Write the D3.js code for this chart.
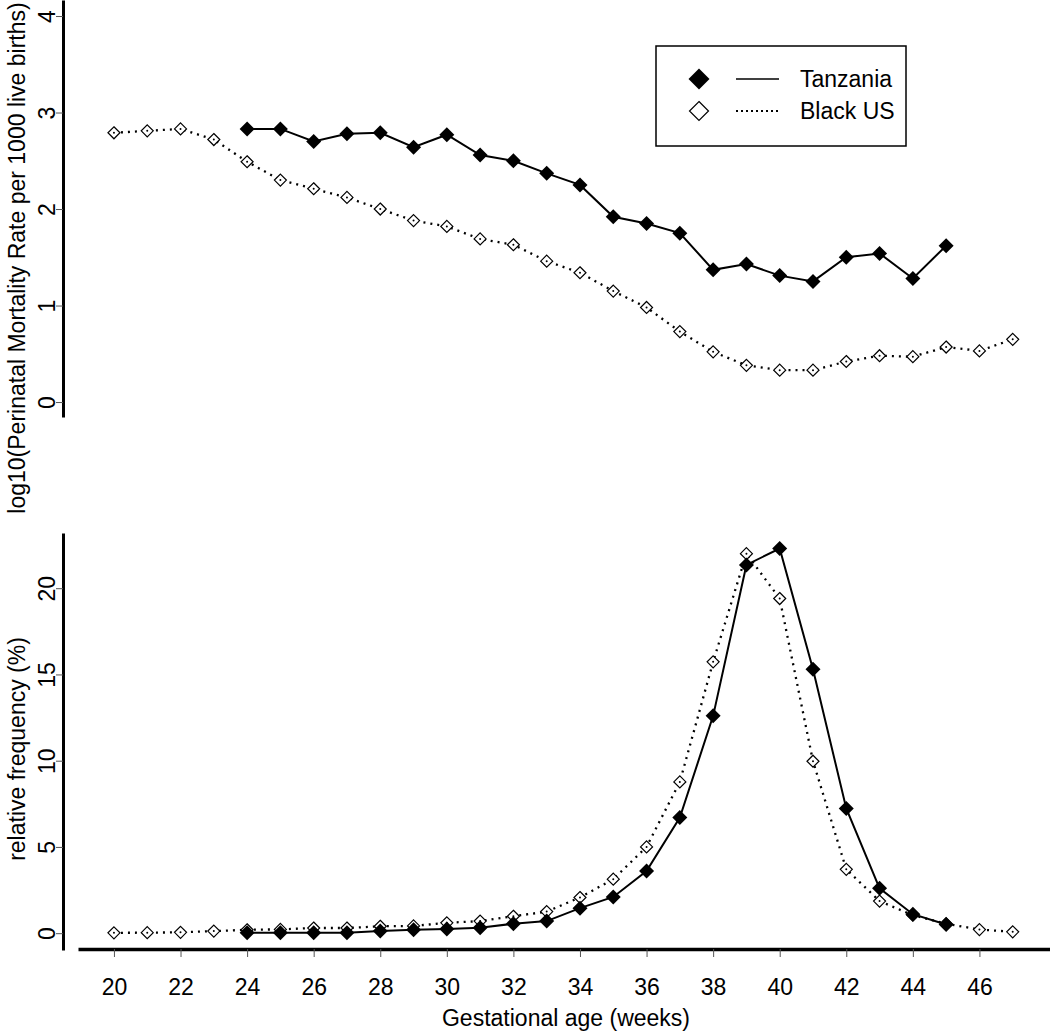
<!DOCTYPE html>
<html>
<head>
<meta charset="utf-8">
<script src="https://cdn.jsdelivr.net/npm/d3@7"></script>
<style>
  html, body { margin: 0; padding: 0; background: #fff; }
  svg text { font-family: "Liberation Sans", Arial, sans-serif; fill: #000; }
</style>
</head>
<body>
<svg id="chart" width="1050" height="1032"></svg>
<script>
// ---- data ----
const weeksTanzania = [24,25,26,27,28,29,30,31,32,33,34,35,36,37,38,39,40,41,42,43,44,45];
const weeksBlackUS  = [20,21,22,23,24,25,26,27,28,29,30,31,32,33,34,35,36,37,38,39,40,41,42,43,44,45,46,47];

const mortTanzania = [2.83,2.83,2.70,2.78,2.79,2.64,2.77,2.56,2.50,2.37,2.25,1.92,1.85,1.75,1.37,1.43,1.31,1.25,1.50,1.54,1.28,1.62];
const mortBlackUS  = [2.79,2.81,2.83,2.72,2.49,2.30,2.21,2.12,2.00,1.88,1.82,1.69,1.63,1.46,1.34,1.15,0.98,0.73,0.52,0.38,0.33,0.33,0.42,0.48,0.47,0.57,0.53,0.65];

const freqTanzania = [0.02,0.02,0.03,0.03,0.12,0.2,0.24,0.31,0.55,0.7,1.45,2.1,3.6,6.7,12.6,21.35,22.3,15.3,7.23,2.6,1.1,0.5];
const freqBlackUS  = [0.02,0.03,0.05,0.12,0.2,0.22,0.3,0.3,0.4,0.42,0.6,0.7,0.98,1.25,2.07,3.13,5.0,8.77,15.73,22.0,19.4,9.97,3.7,1.86,1.04,0.55,0.21,0.08];

const xTicks = [20,22,24,26,28,30,32,34,36,38,40,42,44,46];
const mortTicks = [0,1,2,3,4];
const freqTicks = [0,5,10,15,20];
const seriesNames = ["Tanzania", "Black US"];

// ---- layout ----
const FS = "23px";
const svg = d3.select("#chart");
const x = d3.scaleLinear().domain([18.92, 48.12]).range([78, 1050]);
const yTop = d3.scaleLinear().domain([-0.155, 4.166]).range([417, 0]);
const yBot = d3.scaleLinear().domain([-0.975, 23.2]).range([950, 533]);
const axisX = 63;

function styleYAxis(g) {
  g.select(".domain").attr("stroke", "#000").attr("stroke-width", 3);
  g.selectAll(".tick line").attr("stroke", "#555").attr("stroke-width", 1);
  g.selectAll(".tick text")
    .attr("x", 0).attr("y", 0).attr("dy", null)
    .attr("text-anchor", "middle")
    .attr("transform", "translate(-8,0) rotate(-90)")
    .style("font-size", FS);
}

// top y axis
svg.append("g").attr("transform", `translate(${axisX},0)`)
  .call(d3.axisLeft(yTop).tickValues(mortTicks).tickSize(7).tickSizeOuter(0).tickFormat(d3.format("d")))
  .call(styleYAxis);

// bottom y axis
svg.append("g").attr("transform", `translate(${axisX},0)`)
  .call(d3.axisLeft(yBot).tickValues(freqTicks).tickSize(7).tickSizeOuter(0).tickFormat(d3.format("d")))
  .call(styleYAxis);

// x axis
const gx = svg.append("g").attr("transform", "translate(0,949)")
  .call(d3.axisBottom(x).tickValues(xTicks).tickSize(8).tickSizeOuter(0).tickPadding(22).tickFormat(d3.format("d")));
gx.select(".domain").attr("stroke", "#000").attr("stroke-width", 3.5);
gx.selectAll(".tick line").attr("stroke", "#555").attr("stroke-width", 1);
gx.selectAll(".tick text").style("font-size", FS);

// axis titles
svg.append("text").attr("transform", "translate(25,258) rotate(-90)")
  .attr("text-anchor", "middle").style("font-size", FS)
  .text("log10(Perinatal Mortality Rate per 1000 live births)");
svg.append("text").attr("transform", "translate(25,749) rotate(-90)")
  .attr("text-anchor", "middle").style("font-size", FS)
  .text("relative frequency (%)");
svg.append("text").attr("x", 566).attr("y", 1026)
  .attr("text-anchor", "middle").style("font-size", FS)
  .text("Gestational age (weeks)");

// ---- series drawing ----
const diamond = (r) => `M0,${-r}L${r},0L0,${r}L${-r},0Z`;

function drawSeries(weeks, vals, yScale, filled) {
  const pts = weeks.map((w, i) => [w, vals[i]]);
  const line = d3.line().x(d => x(d[0])).y(d => yScale(d[1]));
  svg.append("path").datum(pts).attr("d", line)
    .attr("fill", "none").attr("stroke", "#000")
    .attr("stroke-width", filled ? 2 : 2.3)
    .attr("stroke-dasharray", filled ? null : "2,5");
  const g = svg.append("g").selectAll("g").data(pts).join("g")
    .attr("transform", d => `translate(${x(d[0])},${yScale(d[1])})`);
  if (filled) {
    g.append("path").attr("d", diamond(7.5)).attr("fill", "#000");
  } else {
    g.append("path").attr("d", diamond(6)).attr("fill", "#fff").attr("stroke", "#000").attr("stroke-width", 1.2);
    g.append("circle").attr("r", 1).attr("fill", "#000");
  }
}

drawSeries(weeksBlackUS, mortBlackUS, yTop, false);
drawSeries(weeksTanzania, mortTanzania, yTop, true);
drawSeries(weeksBlackUS, freqBlackUS, yBot, false);
drawSeries(weeksTanzania, freqTanzania, yBot, true);

// ---- legend ----
const lg = svg.append("g");
lg.append("rect").attr("x", 656).attr("y", 46).attr("width", 250).attr("height", 100)
  .attr("fill", "#fff").attr("stroke", "#000").attr("stroke-width", 1.5);
const rows = [79, 111];
seriesNames.forEach((name, i) => {
  const cy = rows[i];
  if (i === 0) {
    lg.append("path").attr("transform", `translate(699,${cy})`).attr("d", diamond(10.5)).attr("fill", "#000");
  } else {
    lg.append("path").attr("transform", `translate(699,${cy})`).attr("d", diamond(9.5))
      .attr("fill", "#fff").attr("stroke", "#000").attr("stroke-width", 1.2);
  }
  lg.append("line").attr("x1", 736).attr("x2", 779).attr("y1", cy).attr("y2", cy)
    .attr("stroke", "#000").attr("stroke-width", i === 0 ? 1.5 : 1.8)
    .attr("stroke-dasharray", i === 0 ? null : "2,3");
  lg.append("text").attr("x", 800).attr("y", cy).attr("dy", "0.36em")
    .style("font-size", FS).text(name);
});
</script>
</body>
</html>
